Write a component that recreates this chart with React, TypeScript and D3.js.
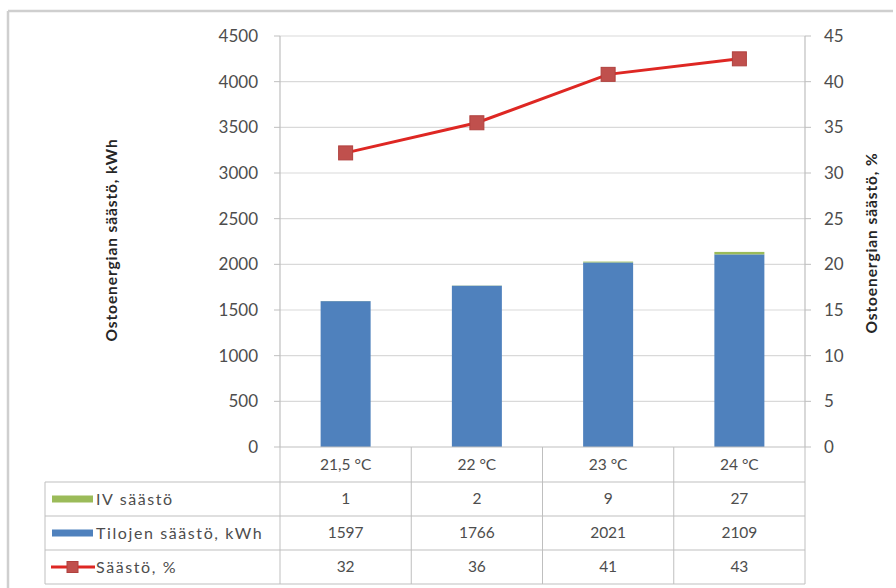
import React from "react";
import * as d3 from "d3";

const categories = ["21,5 °C", "22 °C", "23 °C", "24 °C"];
const ivSaving = [1, 2, 9, 27];
const spaceSaving = [1597, 1766, 2021, 2109];
const savingPct = [32.2, 35.5, 40.8, 42.5];
const leftTicks = [0, 500, 1000, 1500, 2000, 2500, 3000, 3500, 4000, 4500];
const rightTicks = [0, 5, 10, 15, 20, 25, 30, 35, 40, 45];
const seriesNames = ["IV säästö", "Tilojen säästö, kWh", "Säästö, %"];

const W = 896;
const H = 588;
const plotL = 280;
const plotR = 805;
const plotT = 36;
const plotB = 447;
const tableL = 45;
const rowLines = [447, 482, 516, 550, 584];

const FONT = "Lato, 'Open Sans', sans-serif";
const TXT = "#4D4D4D";
const GRID = "#D9D9D9";
const BORDER = "#BFBFBF";
const GREEN = "#9BBB59";
const BLUE = "#4F81BD";
const LINE = "#DE2723";
const MARK = "#C0504D";

export default function App() {
  const x = d3.scaleBand<string>().domain(categories).range([plotL, plotR]).paddingInner(0).paddingOuter(0);
  const yL = d3.scaleLinear().domain([0, 4500]).range([plotB, plotT]);
  const yR = d3.scaleLinear().domain([0, 45]).range([plotB, plotT]);
  const bw = 50;
  const cx = (c: string) => (x(c) as number) + x.bandwidth() / 2;

  const line = d3
    .line<number>()
    .x((_, i) => cx(categories[i]))
    .y((d) => yR(d));

  const rowValues = [ivSaving.map(String), spaceSaving.map(String), savingPct.map((v) => String(Math.round(v)))];
  const colLines = categories.map((c) => x(c) as number).concat([plotR]);

  return (
    <svg width={W} height={H} style={{ position: "absolute", left: 0, top: 0, background: "#fff" }} fontFamily={FONT}>
      <rect x={0} y={0} width={W} height={H} fill="#fff" />
      {/* outer frame */}
      <line x1={8} y1={11} x2={W - 3} y2={11} stroke="#CFCFCF" strokeWidth={2.5} />
      <line x1={8} y1={11} x2={8} y2={H} stroke="#CFCFCF" strokeWidth={2.5} />

      {/* gridlines */}
      {leftTicks.filter((t) => t > 0).map((t) => (
        <line key={"g" + t} x1={plotL} x2={plotR} y1={yL(t)} y2={yL(t)} stroke={GRID} strokeWidth={1.2} />
      ))}

      {/* bars */}
      {categories.map((c, i) => (
        <g key={"b" + c}>
          <rect x={cx(c) - bw / 2} y={yL(spaceSaving[i])} width={bw} height={plotB - yL(spaceSaving[i])} fill={BLUE} />
          <rect
            x={cx(c) - bw / 2}
            y={yL(spaceSaving[i] + ivSaving[i])}
            width={bw}
            height={yL(spaceSaving[i]) - yL(spaceSaving[i] + ivSaving[i])}
            fill={GREEN}
          />
        </g>
      ))}

      {/* axes */}
      <line x1={plotL} x2={plotL} y1={plotT} y2={plotB} stroke={BORDER} strokeWidth={1.2} />
      <line x1={plotR} x2={plotR} y1={plotT} y2={plotB} stroke={BORDER} strokeWidth={1.2} />
      {leftTicks.map((t) => (
        <g key={"l" + t}>
          <line x1={plotL - 6} x2={plotL} y1={yL(t)} y2={yL(t)} stroke={BORDER} />
          <text x={258} y={yL(t)} dy="0.35em" textAnchor="end" fontSize={17} fill={TXT}>
            {t}
          </text>
        </g>
      ))}
      {rightTicks.map((t) => (
        <g key={"r" + t}>
          <line x1={plotR} x2={plotR + 6} y1={yR(t)} y2={yR(t)} stroke={BORDER} />
          <text x={824} y={yR(t)} dy="0.35em" textAnchor="start" fontSize={17} fill={TXT}>
            {t}
          </text>
        </g>
      ))}

      {/* axis titles */}
      <text
        transform={`translate(117,240) rotate(-90)`}
        textAnchor="middle"
        fontSize={15.5}
        fontWeight="bold"
        letterSpacing={0.9}
        fill="#262626"
      >
        Ostoenergian säästö, kWh
      </text>
      <text
        transform={`translate(877,243) rotate(-90)`}
        textAnchor="middle"
        fontSize={15.5}
        fontWeight="bold"
        letterSpacing={0.9}
        fill="#262626"
      >
        Ostoenergian säästö, %
      </text>

      {/* line series */}
      <path d={line(savingPct) || ""} fill="none" stroke={LINE} strokeWidth={3} />
      {savingPct.map((v, i) => (
        <rect
          key={"m" + i}
          x={cx(categories[i]) - 7}
          y={yR(v) - 7}
          width={14}
          height={14}
          fill={MARK}
          stroke="#B0413E"
          strokeWidth={1}
        />
      ))}

      {/* data table */}
      {rowLines.map((y, i) => (
        <line key={"h" + i} x1={i === 0 ? plotL : tableL} x2={plotR} y1={y} y2={y} stroke={BORDER} strokeWidth={i === 0 ? 1.2 : 1} />
      ))}
      <line x1={tableL} x2={tableL} y1={rowLines[1]} y2={rowLines[4]} stroke={BORDER} />
      {colLines.map((cxl, i) => (
        <line key={"v" + i} x1={cxl} x2={cxl} y1={plotB} y2={rowLines[4]} stroke={BORDER} />
      ))}
      {categories.map((c) => (
        <text key={"c" + c} x={cx(c)} y={(rowLines[0] + rowLines[1]) / 2} dy="0.35em" textAnchor="middle" fontSize={15.5} fill={TXT}>
          {c}
        </text>
      ))}
      {rowValues.map((vals, r) =>
        vals.map((v, i) => (
          <text
            key={"t" + r + "-" + i}
            x={cx(categories[i])}
            y={(rowLines[r + 1] + rowLines[r + 2]) / 2}
            dy="0.35em"
            textAnchor="middle"
            fontSize={15.5}
            fill={TXT}
          >
            {v}
          </text>
        ))
      )}

      {/* legend keys */}
      {seriesNames.map((n, r) => {
        const yc = (rowLines[r + 1] + rowLines[r + 2]) / 2;
        return (
          <g key={"k" + r}>
            {r === 0 && <rect x={52} y={yc - 3.5} width={41} height={7} fill={GREEN} />}
            {r === 1 && <rect x={52} y={yc - 3.5} width={41} height={7} fill={BLUE} />}
            {r === 2 && (
              <g>
                <line x1={51} x2={95} y1={yc} y2={yc} stroke={LINE} strokeWidth={3} />
                <rect x={67} y={yc - 5.5} width={11} height={11} fill={MARK} stroke="#B0413E" />
              </g>
            )}
            <text x={96} y={yc} dy="0.35em" fontSize={16} letterSpacing={1.6} fill={TXT}>
              {n}
            </text>
          </g>
        );
      })}
    </svg>
  );
}
